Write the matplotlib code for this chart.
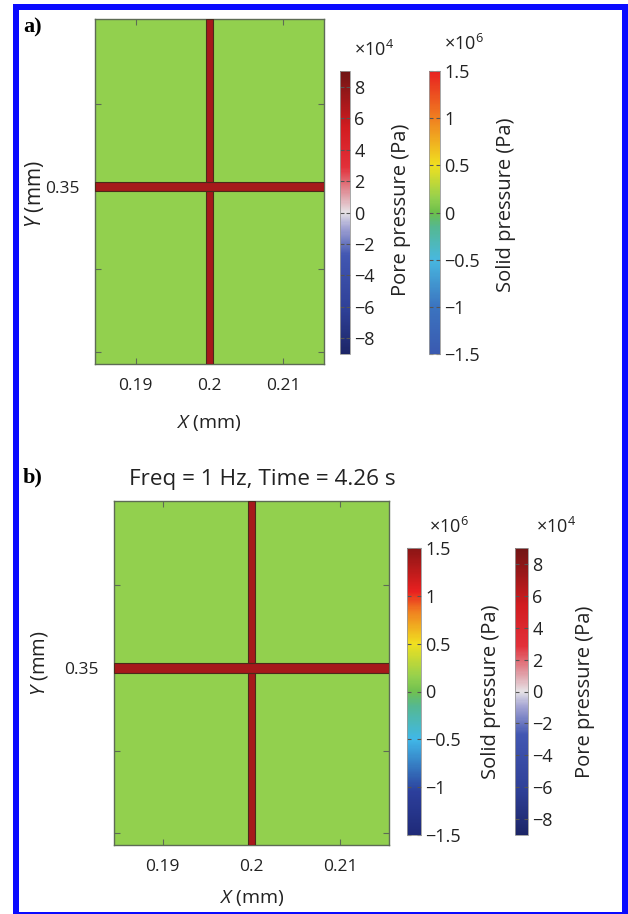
import numpy as np
import matplotlib
matplotlib.use("Agg")
import matplotlib.pyplot as plt
from matplotlib.colors import LinearSegmentedColormap, Normalize
from matplotlib.patches import Rectangle
from matplotlib.cm import ScalarMappable

plt.rcParams['font.family'] = ['Open Sans', 'DejaVu Sans']
plt.rcParams['mathtext.fontset'] = 'custom'
plt.rcParams['mathtext.rm'] = 'Open Sans'
plt.rcParams['mathtext.it'] = 'Open Sans:italic'

# ---------------- data ----------------
x_range = [0.1845, 0.2155]          # mm
y_range = [0.3286, 0.3702]          # mm
x_ticks = [0.19, 0.20, 0.21]
x_tick_labels = ["0.19", "0.2", "0.21"]
y_ticks = [0.33, 0.34, 0.35, 0.36]
y_tick_labels = ["", "", "0.35", ""]

frac_x_center = 0.2                 # vertical fracture
frac_x_width = 0.0009
frac_y_center = 0.35                # horizontal fracture
frac_y_width = 0.0011

matrix_solid_pressure = 0.15e6      # Pa, matrix colour
fracture_pore_pressure = 7.0e4      # Pa, fracture colour

pore_lim = [-9e4, 9e4]
pore_ticks = [-8e4, -6e4, -4e4, -2e4, 0, 2e4, 4e4, 6e4, 8e4]
solid_lim = [-1.5e6, 1.5e6]
solid_ticks = [-1.5e6, -1e6, -0.5e6, 0, 0.5e6, 1e6, 1.5e6]

title_b = "Freq = 1 Hz, Time = 4.26 s"

# ---------------- colormaps ----------------
pore_cmap = LinearSegmentedColormap.from_list("pore", [
    (0.0, "#1c2566"), (0.15, "#2e3f96"), (0.35, "#4257b2"),
    (0.45, "#a6a6d4"), (0.5, "#e6e2e6"), (0.56, "#e0a0a8"),
    (0.66, "#e2303a"), (0.8, "#d21c20"), (1.0, "#701515")])
solid_cmap_a = LinearSegmentedColormap.from_list("solid_a", [
    (0.0, "#3a5ab0"), (0.167, "#3b74c0"), (0.333, "#48b8e0"),
    (0.45, "#55b890"), (0.5, "#6cbf4a"), (0.55, "#93d04e"),
    (0.667, "#f0e020"), (0.833, "#f08020"), (1.0, "#e82020")])
solid_cmap_b = LinearSegmentedColormap.from_list("solid_b", [
    (0.0, "#1f2a78"), (0.15, "#2c3f9c"), (0.333, "#40b8e8"),
    (0.45, "#55b890"), (0.5, "#70c050"), (0.55, "#93d04e"),
    (0.667, "#f0e020"), (0.78, "#f08020"), (0.85, "#e82020"),
    (1.0, "#8a1515")])

W, H = 628, 914
fig = plt.figure(figsize=(W / 100, H / 100), dpi=100)
TXT = "#222222"


def fx(x):
    return x / W


def fy(y):
    return 1 - y / H


def rect(l, t, r, b):
    return [fx(l), fy(b), fx(r) - fx(l), fy(t) - fy(b)]


pore_norm = Normalize(*pore_lim)
solid_norm = Normalize(*solid_lim)
spine_col = "#5d6b55"


def draw_panel(ax, solid_cmap):
    xs = np.array(x_range)
    ys = np.array(y_range)
    field = np.full((1, 1), matrix_solid_pressure)
    ax.pcolormesh(xs, ys, field, cmap=solid_cmap, norm=solid_norm, shading="flat")
    fcol = pore_cmap(pore_norm(fracture_pore_pressure))
    ax.add_patch(Rectangle((frac_x_center - frac_x_width / 2, y_range[0]),
                           frac_x_width, y_range[1] - y_range[0],
                           facecolor=fcol, edgecolor="#4a2a1a", lw=0.8, zorder=3))
    ax.add_patch(Rectangle((x_range[0], frac_y_center - frac_y_width / 2),
                           x_range[1] - x_range[0], frac_y_width,
                           facecolor=fcol, edgecolor="#4a2a1a", lw=0.8, zorder=3))
    ax.set_xlim(x_range)
    ax.set_ylim(y_range)
    ax.set_xticks(x_ticks)
    ax.set_xticklabels(x_tick_labels)
    ax.set_yticks(y_ticks)
    ax.set_yticklabels(y_tick_labels)
    ax.tick_params(axis="both", direction="in", length=4, color=spine_col,
                   labelsize=12.5, labelcolor=TXT, top=True, right=True)
    ax.tick_params(axis="x", pad=10)
    ax.tick_params(axis="y", pad=11)
    for s in ax.spines.values():
        s.set_color(spine_col)
        s.set_linewidth(1.0)


def draw_cbar(pos, cmap, norm, ticks, fmt, mult_text, mult_xy, label, label_xy):
    cax = fig.add_axes(pos)
    cb = fig.colorbar(ScalarMappable(norm=norm, cmap=cmap), cax=cax)
    cb.set_ticks(ticks)
    cb.set_ticklabels([fmt(t) for t in ticks])
    cax.tick_params(direction="in", length=3, color="#555555", left=True,
                    right=True, labelsize=13, labelcolor=TXT, pad=3)
    cb.outline.set_edgecolor("#999999")
    cb.outline.set_linewidth(0.6)
    fig.text(fx(mult_xy[0]), fy(mult_xy[1]), mult_text, ha="center",
             va="center", fontsize=13, color=TXT)
    fig.text(fx(label_xy[0]), fy(label_xy[1]), label, rotation=90,
             ha="center", va="center", fontsize=14.5, color=TXT)


def pore_fmt(v):
    return ("%g" % (v / 1e4)).replace("-", "\u2212") if v != 0 else "0"


def solid_fmt(v):
    return ("%g" % (v / 1e6)).replace("-", "\u2212") if v != 0 else "0"


# ---------------- panel a ----------------
ax_a = fig.add_axes(rect(95, 19, 324, 364))
draw_panel(ax_a, solid_cmap_a)
fig.text(fx(209), fy(423), r"$\mathit{X}$ (mm)", ha="center", va="center",
         fontsize=14, color=TXT)
fig.text(fx(35), fy(194), r"$\mathit{Y}$ (mm)", ha="center", va="center",
         rotation=90, fontsize=15, color=TXT)
fig.text(fx(23), fy(27), "a)", ha="left", va="center", fontsize=16,
         fontweight="bold", family="Liberation Serif")
draw_cbar(rect(340, 71, 350, 354), pore_cmap, pore_norm, pore_ticks, pore_fmt,
          r"$\times10^{4}$", (374, 50), "Pore pressure (Pa)", (401, 210))
draw_cbar(rect(429, 71, 440, 354), solid_cmap_a, solid_norm, solid_ticks, solid_fmt,
          r"$\times10^{6}$", (464, 44), "Solid pressure (Pa)", (506, 205))

# ---------------- panel b ----------------
ax_b = fig.add_axes(rect(114, 501, 389, 845))
draw_panel(ax_b, solid_cmap_b)
fig.text(fx(262), fy(479), title_b, ha="center", va="center", fontsize=16.2,
         color=TXT)
fig.text(fx(252), fy(898), r"$\mathit{X}$ (mm)", ha="center", va="center",
         fontsize=14, color=TXT)
fig.text(fx(39), fy(663), r"$\mathit{Y}$ (mm)", ha="center", va="center",
         rotation=90, fontsize=14.5, color=TXT)
fig.text(fx(23), fy(477), "b)", ha="left", va="center", fontsize=16,
         fontweight="bold", family="Liberation Serif")
draw_cbar(rect(407, 548, 421, 835), solid_cmap_b, solid_norm, solid_ticks, solid_fmt,
          r"$\times10^{6}$", (449, 527), "Solid pressure (Pa)", (491, 692))
draw_cbar(rect(515, 548, 528, 835), pore_cmap, pore_norm, pore_ticks, pore_fmt,
          r"$\times10^{4}$", (556, 527), "Pore pressure (Pa)", (585, 692))

# ---------------- blue frame ----------------
blue = "#0a0aff"
for (l, t, r, b) in [(13, 4, 19, 914), (13, 4, 628, 10), (622, 4, 628, 914),
                     (13, 912, 628, 914)]:
    fig.add_artist(Rectangle((fx(l), fy(b)), fx(r) - fx(l), fy(t) - fy(b),
                             transform=fig.transFigure, facecolor=blue,
                             edgecolor="none", zorder=10))

fig.savefig("out.png", dpi=100)
